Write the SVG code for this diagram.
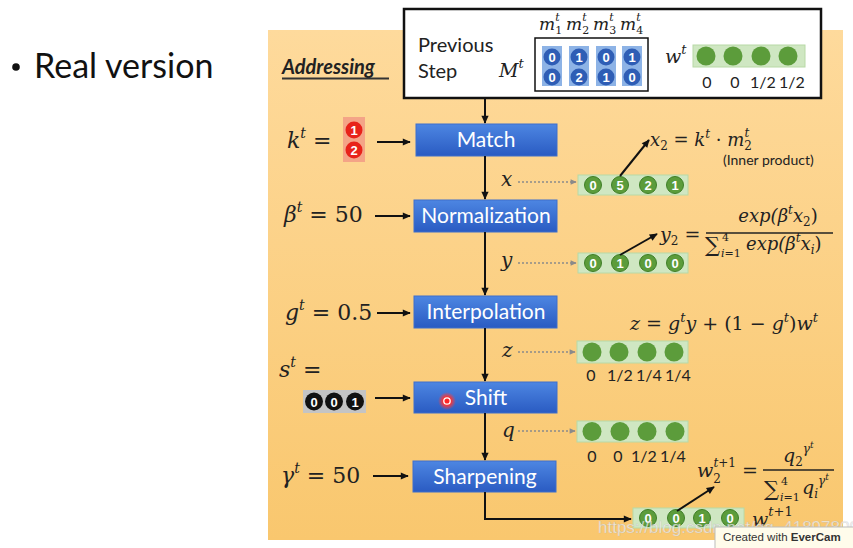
<svg xmlns="http://www.w3.org/2000/svg" width="853" height="548" viewBox="0 0 853 548">
<defs>
<linearGradient id="orange" x1="0" y1="0" x2="0" y2="1">
<stop offset="0" stop-color="#FEDA9C"/><stop offset="1" stop-color="#F9C76E"/>
</linearGradient>
<linearGradient id="blue" x1="0" y1="0" x2="0" y2="1">
<stop offset="0" stop-color="#4D86E2"/><stop offset="1" stop-color="#2A5BC2"/>
</linearGradient>
<radialGradient id="glow">
<stop offset="0" stop-color="#ff2020"/><stop offset="0.45" stop-color="#ff3030"/><stop offset="1" stop-color="#ff4040" stop-opacity="0"/>
</radialGradient>
<marker id="ah" viewBox="0 0 10 10" refX="9" refY="5" markerWidth="10" markerHeight="8" markerUnits="userSpaceOnUse" orient="auto">
<path d="M0,0.5 L10,5 L0,9.5 z" fill="#111"/>
</marker>
<marker id="ahg" viewBox="0 0 10 10" refX="9" refY="5" markerWidth="8" markerHeight="6" markerUnits="userSpaceOnUse" orient="auto">
<path d="M0,0.5 L10,5 L0,9.5 z" fill="#8a8a8a"/>
</marker>
<style>
.sans{font-family:Lato,"Open Sans","Liberation Sans",sans-serif}
.math{font-family:"DejaVu Serif","Liberation Serif",serif;font-style:italic;fill:#222}
.up{font-style:normal}
.box{fill:url(#blue);stroke:#3F6FCB;stroke-width:1}
.btxt{font-family:Lato,"Open Sans","Liberation Sans",sans-serif;font-size:21px;fill:#fff;text-anchor:middle}
.bar{fill:#CFE7C2;stroke:#B8D9A6;stroke-width:1}
.gc{fill:#5C9C3B}
.gcn{fill:#5C9C3B;stroke:#3F7F27;stroke-width:1}
.num{font-family:"Liberation Sans",Arial,sans-serif;font-weight:bold;font-size:13px;fill:#fff;text-anchor:middle}
.lbl{font-family:Lato,"Open Sans","Liberation Sans",sans-serif;font-size:16px;fill:#222;text-anchor:middle}
.ln{stroke:#111;stroke-width:2;fill:none}
.dot{stroke:#8a8a8a;stroke-width:1.6;stroke-dasharray:2 2;fill:none}
</style>
</defs>

<rect width="853" height="548" fill="#fff"/>

<g id="title">
<circle cx="16" cy="67" r="3.8" fill="#111"/>
<text class="sans" x="34" y="78" font-size="34" fill="#111">Real version</text>
</g>

<g id="panel">
<rect x="268" y="30" width="575" height="510" fill="url(#orange)"/>
<text class="sans" x="282" y="74" font-size="20" font-weight="bold" font-style="italic" fill="#222">Addressing</text>
<line x1="282" y1="78.5" x2="389" y2="78.5" stroke="#333" stroke-width="1.8"/>
</g>

<g id="prev-step">
<rect x="404" y="9" width="417" height="89" fill="#fff" stroke="#111" stroke-width="2.5"/>
<text class="sans" x="418" y="52" font-size="20" fill="#222">Previous</text>
<text class="sans" x="418" y="78" font-size="20" fill="#222">Step</text>
<text class="math" x="499" y="77" font-size="19">M<tspan font-size="13" dy="-9">t</tspan></text>
<g id="memory">
<text class="math" font-size="17" x="539" y="30">m<tspan class="up" font-size="11" dy="4">1</tspan><tspan font-size="11" dx="-7" dy="-13">t</tspan></text>
<text class="math" font-size="17" x="566" y="30">m<tspan class="up" font-size="11" dy="4">2</tspan><tspan font-size="11" dx="-7" dy="-13">t</tspan></text>
<text class="math" font-size="17" x="593" y="30">m<tspan class="up" font-size="11" dy="4">3</tspan><tspan font-size="11" dx="-7" dy="-13">t</tspan></text>
<text class="math" font-size="17" x="620" y="30">m<tspan class="up" font-size="11" dy="4">4</tspan><tspan font-size="11" dx="-7" dy="-13">t</tspan></text>
<rect x="535" y="38" width="113" height="53" fill="none" stroke="#111" stroke-width="1.5"/>
<rect x="542" y="46" width="20" height="40" fill="#8DB3E6"/>
<rect x="569" y="46" width="20" height="40" fill="#8DB3E6"/>
<rect x="596" y="46" width="20" height="40" fill="#8DB3E6"/>
<rect x="622" y="46" width="20" height="40" fill="#8DB3E6"/>
<g fill="#2E5DB5">
<circle cx="552" cy="57" r="8.5"/><circle cx="552" cy="77" r="8.5"/>
<circle cx="579" cy="57" r="8.5"/><circle cx="579" cy="77" r="8.5"/>
<circle cx="606" cy="57" r="8.5"/><circle cx="606" cy="77" r="8.5"/>
<circle cx="632" cy="57" r="8.5"/><circle cx="632" cy="77" r="8.5"/>
</g>
<g class="num" font-size="14">
<text x="552" y="62">0</text><text x="552" y="82">0</text>
<text x="579" y="62">1</text><text x="579" y="82">2</text>
<text x="606" y="62">0</text><text x="606" y="82">1</text>
<text x="632" y="62">1</text><text x="632" y="82">0</text>
</g>
</g>
<text class="math" x="665" y="63" font-size="19">w<tspan font-size="13" dy="-9">t</tspan></text>
<g id="wt">
<rect class="bar" x="693" y="45" width="112" height="22"/>
<circle class="gc" cx="706" cy="56" r="9.5"/><circle class="gc" cx="733" cy="56" r="9.5"/>
<circle class="gc" cx="761" cy="56" r="9.5"/><circle class="gc" cx="788" cy="56" r="9.5"/>
<text class="lbl" x="707" y="88">0</text><text class="lbl" x="735" y="88">0</text>
<text class="lbl" x="763" y="88">1/2</text><text class="lbl" x="792" y="88">1/2</text>
</g>
</g>

<g id="match"><rect class="box" x="416" y="124" width="141" height="32"/><text class="btxt" x="486" y="147">Match</text></g>
<g id="normalization"><rect class="box" x="414" y="200" width="143" height="32"/><text class="btxt" x="486" y="223">Normalization</text></g>
<g id="interpolation"><rect class="box" x="414" y="296" width="143" height="32"/><text class="btxt" x="486" y="319">Interpolation</text></g>
<g id="shift"><rect class="box" x="414" y="382" width="143" height="31"/><text class="btxt" x="486" y="405">Shift</text>
<circle cx="447" cy="401" r="9" fill="url(#glow)"/><circle cx="447" cy="401" r="3.2" fill="none" stroke="#fff" stroke-width="1.3"/></g>
<g id="sharpening"><rect class="box" x="413" y="461" width="143" height="31"/><text class="btxt" x="485" y="484">Sharpening</text></g>

<g id="param-k">
<text class="math" x="287" y="148" font-size="22">k<tspan font-size="14" dy="-10">t</tspan><tspan class="up" dy="10"> =</tspan></text>
<rect x="343" y="117" width="22" height="45" fill="#F4A487"/>
<circle cx="354" cy="130" r="8.5" fill="#E8231A"/><circle cx="354" cy="150" r="8.5" fill="#E8231A"/>
<text class="num" x="354" y="135" font-size="14">1</text><text class="num" x="354" y="155" font-size="14">2</text>
</g>
<g id="param-beta"><text class="math" x="284" y="222" font-size="22">β<tspan font-size="14" dy="-10">t</tspan><tspan class="up" dy="10"> = 50</tspan></text></g>
<g id="param-g"><text class="math" x="285" y="320" font-size="22">g<tspan font-size="14" dy="-10">t</tspan><tspan class="up" dy="10"> = 0.5</tspan></text></g>
<g id="param-s">
<text class="math" x="279" y="377" font-size="22">s<tspan font-size="14" dy="-10">t</tspan><tspan class="up" dy="10"> =</tspan></text>
<rect x="303" y="390" width="63" height="23" fill="#C4C4C4"/>
<circle cx="314" cy="401.5" r="9" fill="#111"/><circle cx="334" cy="401.5" r="9" fill="#111"/><circle cx="355" cy="401.5" r="9" fill="#111"/>
<text class="num" x="314" y="406.5" font-size="14">0</text><text class="num" x="334" y="406.5" font-size="14">0</text><text class="num" x="355" y="406.5" font-size="14">1</text>
</g>
<g id="param-gamma"><text class="math" x="281" y="483" font-size="22">γ<tspan font-size="14" dy="-10">t</tspan><tspan class="up" dy="10"> = 50</tspan></text></g>

<g id="labels">
<text class="math" x="501" y="186" font-size="20">x</text>
<text class="math" x="501" y="267" font-size="20">y</text>
<text class="math" x="502" y="357" font-size="20">z</text>
<text class="math" x="502" y="437" font-size="20">q</text>
</g>

<g id="vec-x">
<rect class="bar" x="578" y="175" width="110" height="20"/>
<circle class="gcn" cx="593" cy="185" r="8.5"/><circle class="gcn" cx="620" cy="185" r="8.5"/><circle class="gcn" cx="648" cy="185" r="8.5"/><circle class="gcn" cx="675" cy="185" r="8.5"/>
<text class="num" x="593" y="190">0</text><text class="num" x="620" y="190">5</text><text class="num" x="648" y="190">2</text><text class="num" x="675" y="190">1</text>
</g>
<g id="vec-y">
<rect class="bar" x="578" y="253" width="110" height="20"/>
<circle class="gcn" cx="593" cy="263" r="8.5"/><circle class="gcn" cx="620" cy="263" r="8.5"/><circle class="gcn" cx="648" cy="263" r="8.5"/><circle class="gcn" cx="675" cy="263" r="8.5"/>
<text class="num" x="593" y="268">0</text><text class="num" x="620" y="268">1</text><text class="num" x="648" y="268">0</text><text class="num" x="675" y="268">0</text>
</g>
<g id="vec-z">
<rect class="bar" x="577" y="341" width="111" height="22"/>
<circle class="gc" cx="592" cy="352" r="9.5"/><circle class="gc" cx="619" cy="352" r="9.5"/><circle class="gc" cx="647" cy="352" r="9.5"/><circle class="gc" cx="674" cy="352" r="9.5"/>
<text class="lbl" x="591" y="381">0</text><text class="lbl" x="620" y="381">1/2</text><text class="lbl" x="649" y="381">1/4</text><text class="lbl" x="678" y="381">1/4</text>
</g>
<g id="vec-q">
<rect class="bar" x="577" y="421" width="111" height="21"/>
<circle class="gc" cx="592" cy="431.5" r="9.5"/><circle class="gc" cx="620" cy="431.5" r="9.5"/><circle class="gc" cx="647" cy="431.5" r="9.5"/><circle class="gc" cx="675" cy="431.5" r="9.5"/>
<text class="lbl" x="592" y="462">0</text><text class="lbl" x="618" y="462">0</text><text class="lbl" x="644" y="462">1/2</text><text class="lbl" x="673" y="462">1/4</text>
</g>
<g id="vec-w-next">
<rect class="bar" x="633" y="508" width="111" height="20"/>
<circle class="gcn" cx="648" cy="518" r="8.5"/><circle class="gcn" cx="676" cy="518" r="8.5"/><circle class="gcn" cx="702" cy="518" r="8.5"/><circle class="gcn" cx="730" cy="518" r="8.5"/>
<text class="num" x="648" y="523">0</text><text class="num" x="676" y="523">0</text><text class="num" x="702" y="523">1</text><text class="num" x="730" y="523">0</text>
<text class="math" x="752" y="526" font-size="19">w<tspan font-size="13" dy="-10">t</tspan><tspan class="up" font-size="13">+1</tspan></text>
</g>

<g id="formulas">
<text class="math" x="650" y="146" font-size="18">x<tspan class="up" font-size="12" dy="4">2</tspan><tspan class="up" dy="-4"> = </tspan>k<tspan font-size="12" dy="-8">t</tspan><tspan class="up" dy="8"> · </tspan>m<tspan class="up" font-size="12" dy="4">2</tspan><tspan font-size="12" dx="-7.5" dy="-13">t</tspan></text>
<text class="sans" x="723" y="165" font-size="14" fill="#222">(Inner product)</text>

<text class="math" x="660" y="241" font-size="19">y<tspan class="up" font-size="12" dy="4">2</tspan><tspan class="up" dy="-4"> =</tspan></text>
<line x1="706" y1="233" x2="833" y2="233" stroke="#222" stroke-width="1.3"/>
<text class="math" x="778" y="222" font-size="18" text-anchor="middle">exp(β<tspan font-size="12" dy="-8">t</tspan><tspan dy="8">x</tspan><tspan class="up" font-size="12" dy="4">2</tspan><tspan class="up" dy="-4">)</tspan></text>
<text class="math up" x="705" y="252" font-size="21">∑</text>
<text class="math up" x="722" y="241" font-size="11">4</text>
<text class="math" x="721" y="257" font-size="11">i<tspan class="up">=1</tspan></text>
<text class="math" x="746" y="250" font-size="18">exp(β<tspan font-size="12" dy="-8">t</tspan><tspan dy="8">x</tspan><tspan font-size="12" dy="4">i</tspan><tspan class="up" dy="-4">)</tspan></text>

<text class="math" x="630" y="330" font-size="19">z<tspan class="up"> = </tspan>g<tspan font-size="13" dy="-8">t</tspan><tspan dy="8">y</tspan><tspan class="up"> + (1 − </tspan>g<tspan font-size="13" dy="-8">t</tspan><tspan class="up" dy="8">)</tspan>w<tspan font-size="13" dy="-8">t</tspan></text>

<text class="math" x="697" y="477" font-size="19">w<tspan class="up" font-size="12" dy="6">2</tspan><tspan font-size="12" dx="-7.5" dy="-16">t</tspan><tspan class="up" font-size="12">+1</tspan><tspan class="up" dy="10"> =</tspan></text>
<line x1="763" y1="470" x2="834" y2="470" stroke="#222" stroke-width="1.3"/>
<text class="math" x="783" y="462" font-size="19">q<tspan class="up" font-size="12" dy="4">2</tspan><tspan font-size="12" dy="-13">γ</tspan><tspan font-size="9" dy="-5">t</tspan></text>
<text class="math up" x="764" y="496" font-size="21">∑</text>
<text class="math up" x="781" y="485" font-size="11">4</text>
<text class="math" x="780" y="501" font-size="11">i<tspan class="up">=1</tspan></text>
<text class="math" x="802" y="494" font-size="19">q<tspan font-size="12" dy="4">i</tspan><tspan font-size="12" dy="-13">γ</tspan><tspan font-size="9" dy="-5">t</tspan></text>
</g>

<g id="connectors">
<line class="ln" x1="485" y1="98" x2="485" y2="123" marker-end="url(#ah)"/>
<line class="ln" x1="485" y1="156" x2="485" y2="199" marker-end="url(#ah)"/>
<line class="ln" x1="485" y1="232" x2="485" y2="295" marker-end="url(#ah)"/>
<line class="ln" x1="485" y1="328" x2="485" y2="381" marker-end="url(#ah)"/>
<line class="ln" x1="485" y1="413" x2="485" y2="460" marker-end="url(#ah)"/>
<path class="ln" d="M485,492 V519 H631" marker-end="url(#ah)"/>
<line class="ln" x1="377" y1="142" x2="410" y2="142" marker-end="url(#ah)"/>
<line class="ln" x1="375" y1="216" x2="410" y2="216" marker-end="url(#ah)"/>
<line class="ln" x1="377" y1="313" x2="410" y2="313" marker-end="url(#ah)"/>
<line class="ln" x1="375" y1="398" x2="410" y2="398" marker-end="url(#ah)"/>
<line class="ln" x1="373" y1="476" x2="408" y2="476" marker-end="url(#ah)"/>
<line class="dot" x1="518" y1="182" x2="576" y2="182" marker-end="url(#ahg)"/>
<line class="dot" x1="518" y1="263" x2="576" y2="263" marker-end="url(#ahg)"/>
<line class="dot" x1="518" y1="352" x2="575" y2="352" marker-end="url(#ahg)"/>
<line class="dot" x1="518" y1="431" x2="575" y2="431" marker-end="url(#ahg)"/>
<line class="ln" x1="620" y1="176" x2="649" y2="140" marker-end="url(#ah)"/>
<line class="ln" x1="620" y1="255" x2="657" y2="234" marker-end="url(#ah)"/>
<line class="ln" x1="677" y1="511" x2="714" y2="487" marker-end="url(#ah)"/>
</g>

<g id="watermark">
<text x="598" y="533" font-family="Liberation Sans,Arial,sans-serif" font-size="17" fill="#f4f4f4" fill-opacity="0.75" stroke="#9a9a9a" stroke-opacity="0.35" stroke-width="0.6">https://blog.csdn.net/qq_41897800</text>
<rect x="715" y="527" width="140" height="24" fill="#FFFCEB" stroke="#bbb" stroke-width="1"/>
<text x="723" y="541" font-family="Liberation Sans,Arial,sans-serif" font-size="11.5" fill="#333">Created with <tspan font-weight="bold">EverCam</tspan></text>
</g>
</svg>
